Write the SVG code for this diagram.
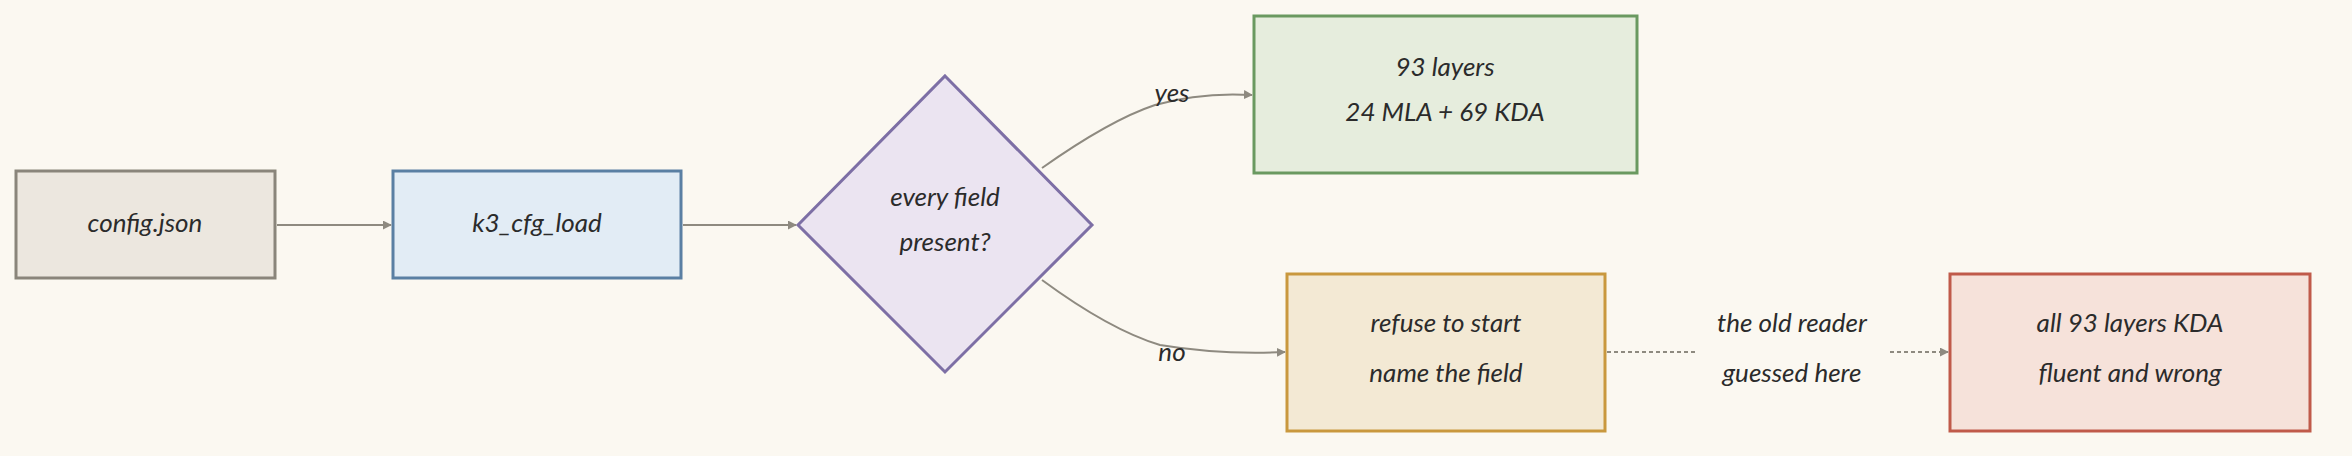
<svg xmlns="http://www.w3.org/2000/svg" width="2352" height="456" viewBox="0 0 2352 456">
<defs>
<marker id="ah" viewBox="0 0 10 10" refX="9" refY="5" markerWidth="9" markerHeight="9" orient="auto" markerUnits="userSpaceOnUse"><path d="M0,0 L10,5 L0,10 z" fill="#8e8a80"/></marker>
<style>
text{font-family:"Lato","DejaVu Sans",sans-serif;font-style:italic;font-size:26px;fill:#2b2b2b;text-anchor:middle;dominant-baseline:middle}
.n{stroke-width:3}
.e{fill:none;stroke:#8e8a80;stroke-width:2}
</style>
</defs>
<rect width="2352" height="456" fill="#fbf8f1"/>
<g id="config"><rect class="n" x="16" y="171" width="259" height="107" fill="#ece7df" stroke="#8a857b"/><text x="145" y="225">config.json</text></g>
<g id="k3"><rect class="n" x="393" y="171" width="288" height="107" fill="#e2ecf5" stroke="#5a7fa3"/><text x="537" y="225">k3_cfg_load</text></g>
<g id="check"><polygon class="n" points="945,76 1092,225 945,372 798,225" fill="#ebe4f1" stroke="#7d6fa5"/><text x="945" y="199">every field</text><text x="945" y="244">present?</text></g>
<g id="yesbox"><rect class="n" x="1254" y="16" width="383" height="157" fill="#e6eddd" stroke="#6a9960"/><text x="1445" y="69">93 layers</text><text x="1445" y="114">24 MLA + 69 KDA</text></g>
<g id="nobox"><rect class="n" x="1287" y="274" width="318" height="157" fill="#f3e9d4" stroke="#c9983e"/><text x="1446" y="325">refuse to start</text><text x="1446" y="375">name the field</text></g>
<g id="wrong"><rect class="n" x="1950" y="274" width="360" height="157" fill="#f6e2da" stroke="#c05a4a"/><text x="2130" y="325">all 93 layers KDA</text><text x="2130" y="375">fluent and wrong</text></g>
<g id="connectors">
<path class="e" d="M277,225 L391,225" marker-end="url(#ah)"/>
<path class="e" d="M683,225 L796,225" marker-end="url(#ah)"/>
<path class="e" d="M1042,168 Q1110,120 1155,105 Q1200,92 1252,95" marker-end="url(#ah)"/>
<path class="e" d="M1042,280 Q1110,330 1160,345 Q1220,355 1285,352" marker-end="url(#ah)"/>
<path class="e" d="M1607,352 L1695,352" stroke-dasharray="4 3"/>
<path class="e" d="M1890,352 L1948,352" stroke-dasharray="4 3" marker-end="url(#ah)"/>
<text x="1172" y="95">yes</text>
<text x="1172" y="354">no</text>
<text x="1792" y="325">the old reader</text>
<text x="1792" y="375">guessed here</text>
</g>
</svg>
